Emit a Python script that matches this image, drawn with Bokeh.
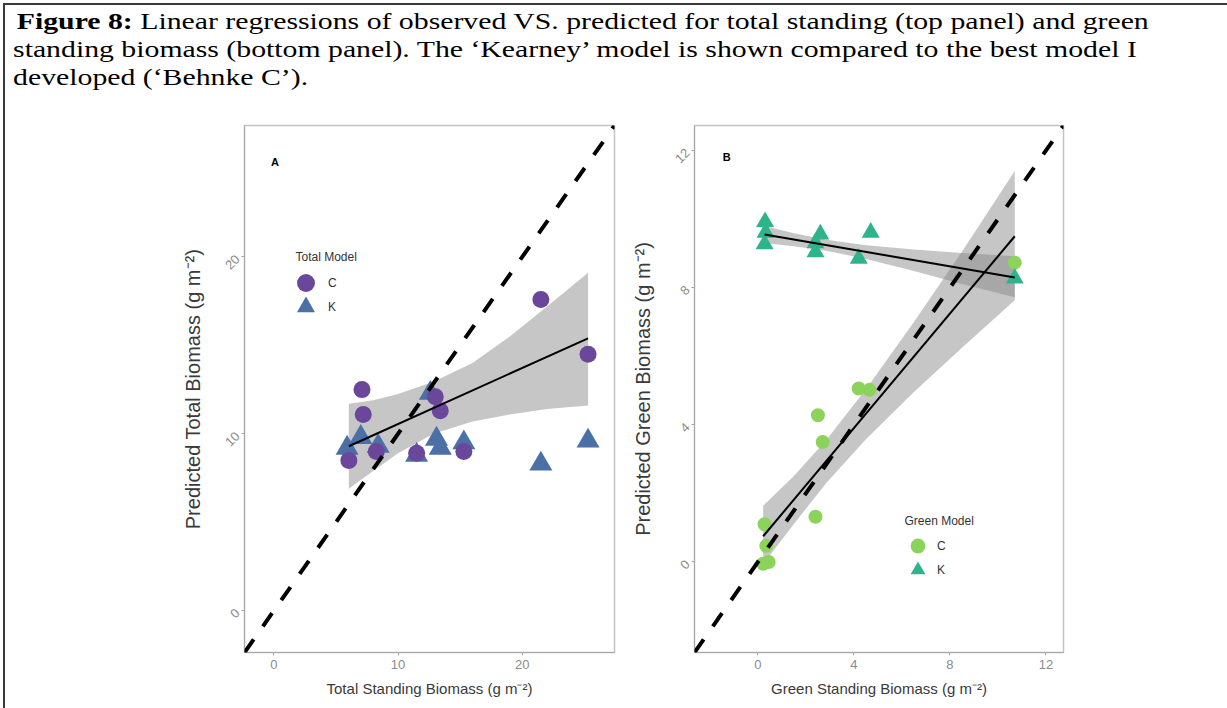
import math
from bokeh.plotting import figure
from bokeh.models import Range1d, FixedTicker, Legend, LegendItem, Slope, Div, Spacer, Label
from bokeh.layouts import column, row
from bokeh.core.properties import value
from bokeh.embed import file_html
from bokeh.resources import INLINE

# ---------------- data ----------------
# Panel A : total standing biomass
a_obs_C = [6.04, 7.1, 7.2, 8.25, 11.5, 13.0, 13.4, 15.3, 21.5, 25.3]
a_pred_C = [8.5, 12.5, 11.1, 9.0, 8.9, 12.1, 11.3, 9.0, 17.6, 14.5]
a_obs_K = [5.9, 7.0, 8.4, 11.5, 12.6, 13.1, 13.4, 15.3, 21.5, 25.3]
a_pred_K = [9.2, 9.8, 9.3, 8.8, 12.3, 9.7, 9.2, 9.5, 8.3, 9.6]
a_fit_x = [6.04, 25.3]
a_fit_y = [9.3, 15.4]
a_band_x = [6.04, 8.0, 10.0, 12.86, 16.0, 19.0, 22.0, 25.3]
a_band_lo = [6.9, 7.9, 8.9, 10.0, 10.7, 11.1, 11.4, 11.6]
a_band_hi = [11.7, 11.9, 12.25, 12.95, 14.0, 15.5, 17.2, 19.1]

# Panel B : green standing biomass
b_obs_C = [0.22, 0.45, 0.35, 0.28, 2.4, 2.7, 2.5, 4.2, 4.65, 10.7]
b_pred_C = [-0.05, 0.0, 0.47, 1.1, 1.32, 3.5, 4.28, 5.06, 5.02, 8.73]
b_obs_K = [0.3, 0.32, 0.28, 2.6, 2.4, 2.4, 4.7, 4.2, 10.7]
b_pred_K = [9.92, 9.61, 9.27, 9.56, 9.3, 9.04, 9.61, 8.85, 8.27]
b_fitC_x = [0.22, 10.7]
b_fitC_y = [0.75, 9.5]
b_fitK_x = [0.28, 10.7]
b_fitK_y = [9.55, 8.3]
b_bandC_x = [0.22, 1.5, 2.85, 4.5, 6.5, 8.5, 10.7]
b_bandC_lo = [-0.06, 1.11, 2.30, 3.58, 4.96, 6.25, 7.63]
b_bandC_hi = [1.64, 2.51, 3.56, 5.04, 7.0, 9.05, 11.4]
b_bandK_x = [0.28, 1.5, 2.85, 4.5, 6.5, 8.5, 10.7]
b_bandK_lo = [9.30, 9.21, 9.08, 8.84, 8.49, 8.11, 7.72]
b_bandK_hi = [9.80, 9.59, 9.40, 9.24, 9.11, 9.01, 8.92]

a_ticks = [0, 10, 20]
b_ticks = [0, 4, 8, 12]
a_range = (-2.36, 27.43)
b_range = (-2.64, 12.73)

col_a_C = "#6b479c"
col_a_K = "#4b70a6"
col_b_C = "#8bd35b"
col_b_K = "#2fb38a"

FONT = "Liberation Sans"


def style_axes(p, ticks):
    p.xaxis.ticker = FixedTicker(ticks=ticks)
    p.yaxis.ticker = FixedTicker(ticks=ticks)
    for ax in p.axis:
        ax.axis_line_color = "#a6a6a6"
        ax.axis_line_width = 1
        ax.major_tick_line_color = "#a6a6a6"
        ax.minor_tick_line_color = None
        ax.major_tick_out = 3
        ax.major_tick_in = 0
        ax.major_label_text_color = "#8c8c8c"
        ax.major_label_text_font = FONT
        ax.major_label_text_font_size = "13px"
        ax.major_label_standoff = 4
        ax.axis_label_text_font = FONT
        ax.axis_label_text_font_style = "normal"
        ax.axis_label_text_color = "#3a3a3a"
    p.xaxis.axis_label_text_font_size = "15px"
    p.yaxis.axis_label_text_font_size = "20px"
    p.yaxis.major_label_orientation = math.pi / 4
    p.xaxis.axis_label_standoff = 8
    p.yaxis.axis_label_standoff = 14
    p.xgrid.visible = False
    p.ygrid.visible = False
    p.outline_line_color = "#c4c4c4"
    p.outline_line_width = 1.5


def item_legend(p, label, renderer, loc, box, standoff):
    leg = Legend(items=[LegendItem(label=label, renderers=[renderer])], location=loc)
    leg.background_fill_alpha = 0
    leg.border_line_color = None
    leg.padding = 0
    leg.margin = 0
    leg.spacing = 0
    leg.glyph_width = box
    leg.glyph_height = box
    leg.label_height = 20
    leg.label_standoff = standoff
    leg.label_text_font = FONT
    leg.label_text_font_size = "12px"
    leg.label_text_color = "#333333"
    p.add_layout(leg)


def legend_title(p, text, x, y):
    p.add_layout(Label(x=x, y=y, x_units="screen", y_units="screen", text=text,
                       text_font=FONT, text_font_size="12px", text_color="#333333",
                       text_align="left", text_baseline="middle"))


# ---------------- panel A ----------------
pA = figure(frame_width=370, frame_height=527, min_border_left=239, min_border_right=14,
            min_border_top=20, min_border_bottom=56,
            x_range=Range1d(*a_range), y_range=Range1d(*a_range),
            output_backend="svg", toolbar_location=None,
            x_axis_label="Total Standing Biomass (g m⁻²)",
            y_axis_label="Predicted Total Biomass (g m⁻²)")
style_axes(pA, a_ticks)
pA.varea(x=a_band_x, y1=a_band_lo, y2=a_band_hi, fill_color="#808080", fill_alpha=0.45)
rAK = pA.scatter(a_obs_K, a_pred_K, marker="triangle", size=23, fill_color=col_a_K, line_color=None)
rAC = pA.scatter(a_obs_C, a_pred_C, marker="circle", size=17, fill_color=col_a_C, line_color=None)
pA.line(a_fit_x, a_fit_y, line_color="black", line_width=2)
pA.add_layout(Slope(gradient=1, y_intercept=0, line_color="black", line_width=4, line_dash="16 16"))
pA.text(x=[0.1], y=[25.35], text=["A"], text_font=value(FONT), text_font_style="bold",
        text_font_size="11px", text_align="center", text_baseline="middle", text_color="black")
legend_title(pA, "Total Model", 51, 396)
item_legend(pA, "C", rAC, (39, 347), box=45, standoff=0)
item_legend(pA, "K", rAK, (39, 323), box=45, standoff=0)

# ---------------- panel B ----------------
pB = figure(frame_width=369, frame_height=527, min_border_left=64, min_border_right=166,
            min_border_top=20, min_border_bottom=56,
            x_range=Range1d(*b_range), y_range=Range1d(*b_range),
            output_backend="svg", toolbar_location=None,
            x_axis_label="Green Standing Biomass (g m⁻²)",
            y_axis_label="Predicted Green Biomass (g m⁻²)")
style_axes(pB, b_ticks)
pB.varea(x=b_bandC_x, y1=b_bandC_lo, y2=b_bandC_hi, fill_color="#808080", fill_alpha=0.45)
pB.varea(x=b_bandK_x, y1=b_bandK_lo, y2=b_bandK_hi, fill_color="#808080", fill_alpha=0.45)
rBC = pB.scatter(b_obs_C, b_pred_C, marker="circle", size=14, fill_color=col_b_C, line_color=None)
rBK = pB.scatter(b_obs_K, b_pred_K, marker="triangle", size=18, fill_color=col_b_K, line_color=None)
pB.line(b_fitC_x, b_fitC_y, line_color="black", line_width=2)
pB.line(b_fitK_x, b_fitK_y, line_color="black", line_width=2)
pB.add_layout(Slope(gradient=1, y_intercept=0, line_color="black", line_width=4, line_dash="16 16"))
pB.text(x=[-1.3], y=[11.8], text=["B"], text_font=value(FONT), text_font_style="bold",
        text_font_size="11px", text_align="center", text_baseline="middle", text_color="black")
legend_title(pB, "Green Model", 210, 132)
item_legend(pB, "C", rBC, (205, 88), box=37, standoff=1)
item_legend(pB, "K", rBK, (205, 64), box=37, standoff=1)

# ---------------- caption & frame ----------------
caption_html = (
    '<div style="font-family:\'Liberation Serif\',\'Times New Roman\',serif;font-size:24px;'
    'line-height:27.75px;color:#000;white-space:nowrap;padding:3px 0 0 6.5px;'
    'transform:scaleX(1.24);transform-origin:0 0;">'
    '<span style="display:inline-block;width:3px"></span><b>Figure 8:</b> Linear regressions of '
    'observed VS. predicted for total standing (top panel) and green<br>'
    'standing biomass (bottom panel). The \u2018Kearney\u2019 model is shown compared to the best model I<br>'
    'developed (\u2018Behnke C\u2019).</div>'
)
cap = Div(text=caption_html, width=1222, height=100, margin=0)
line_style = {"background-color": "#3a3a3a"}
top_line = Div(text="", width=1224, height=2, styles=line_style, margin=0)
left_line = Div(text="", width=2, height=703, styles=line_style, margin=0)

content = column(cap, row(pA, pB, margin=0), margin=0)
root = column(Spacer(width=1227, height=3, margin=0),
              row(Spacer(width=3, height=705, margin=0),
                  column(top_line, row(left_line, content, margin=0), margin=0), margin=0),
              margin=0)

open("out.html", "w").write(file_html(root, INLINE))
